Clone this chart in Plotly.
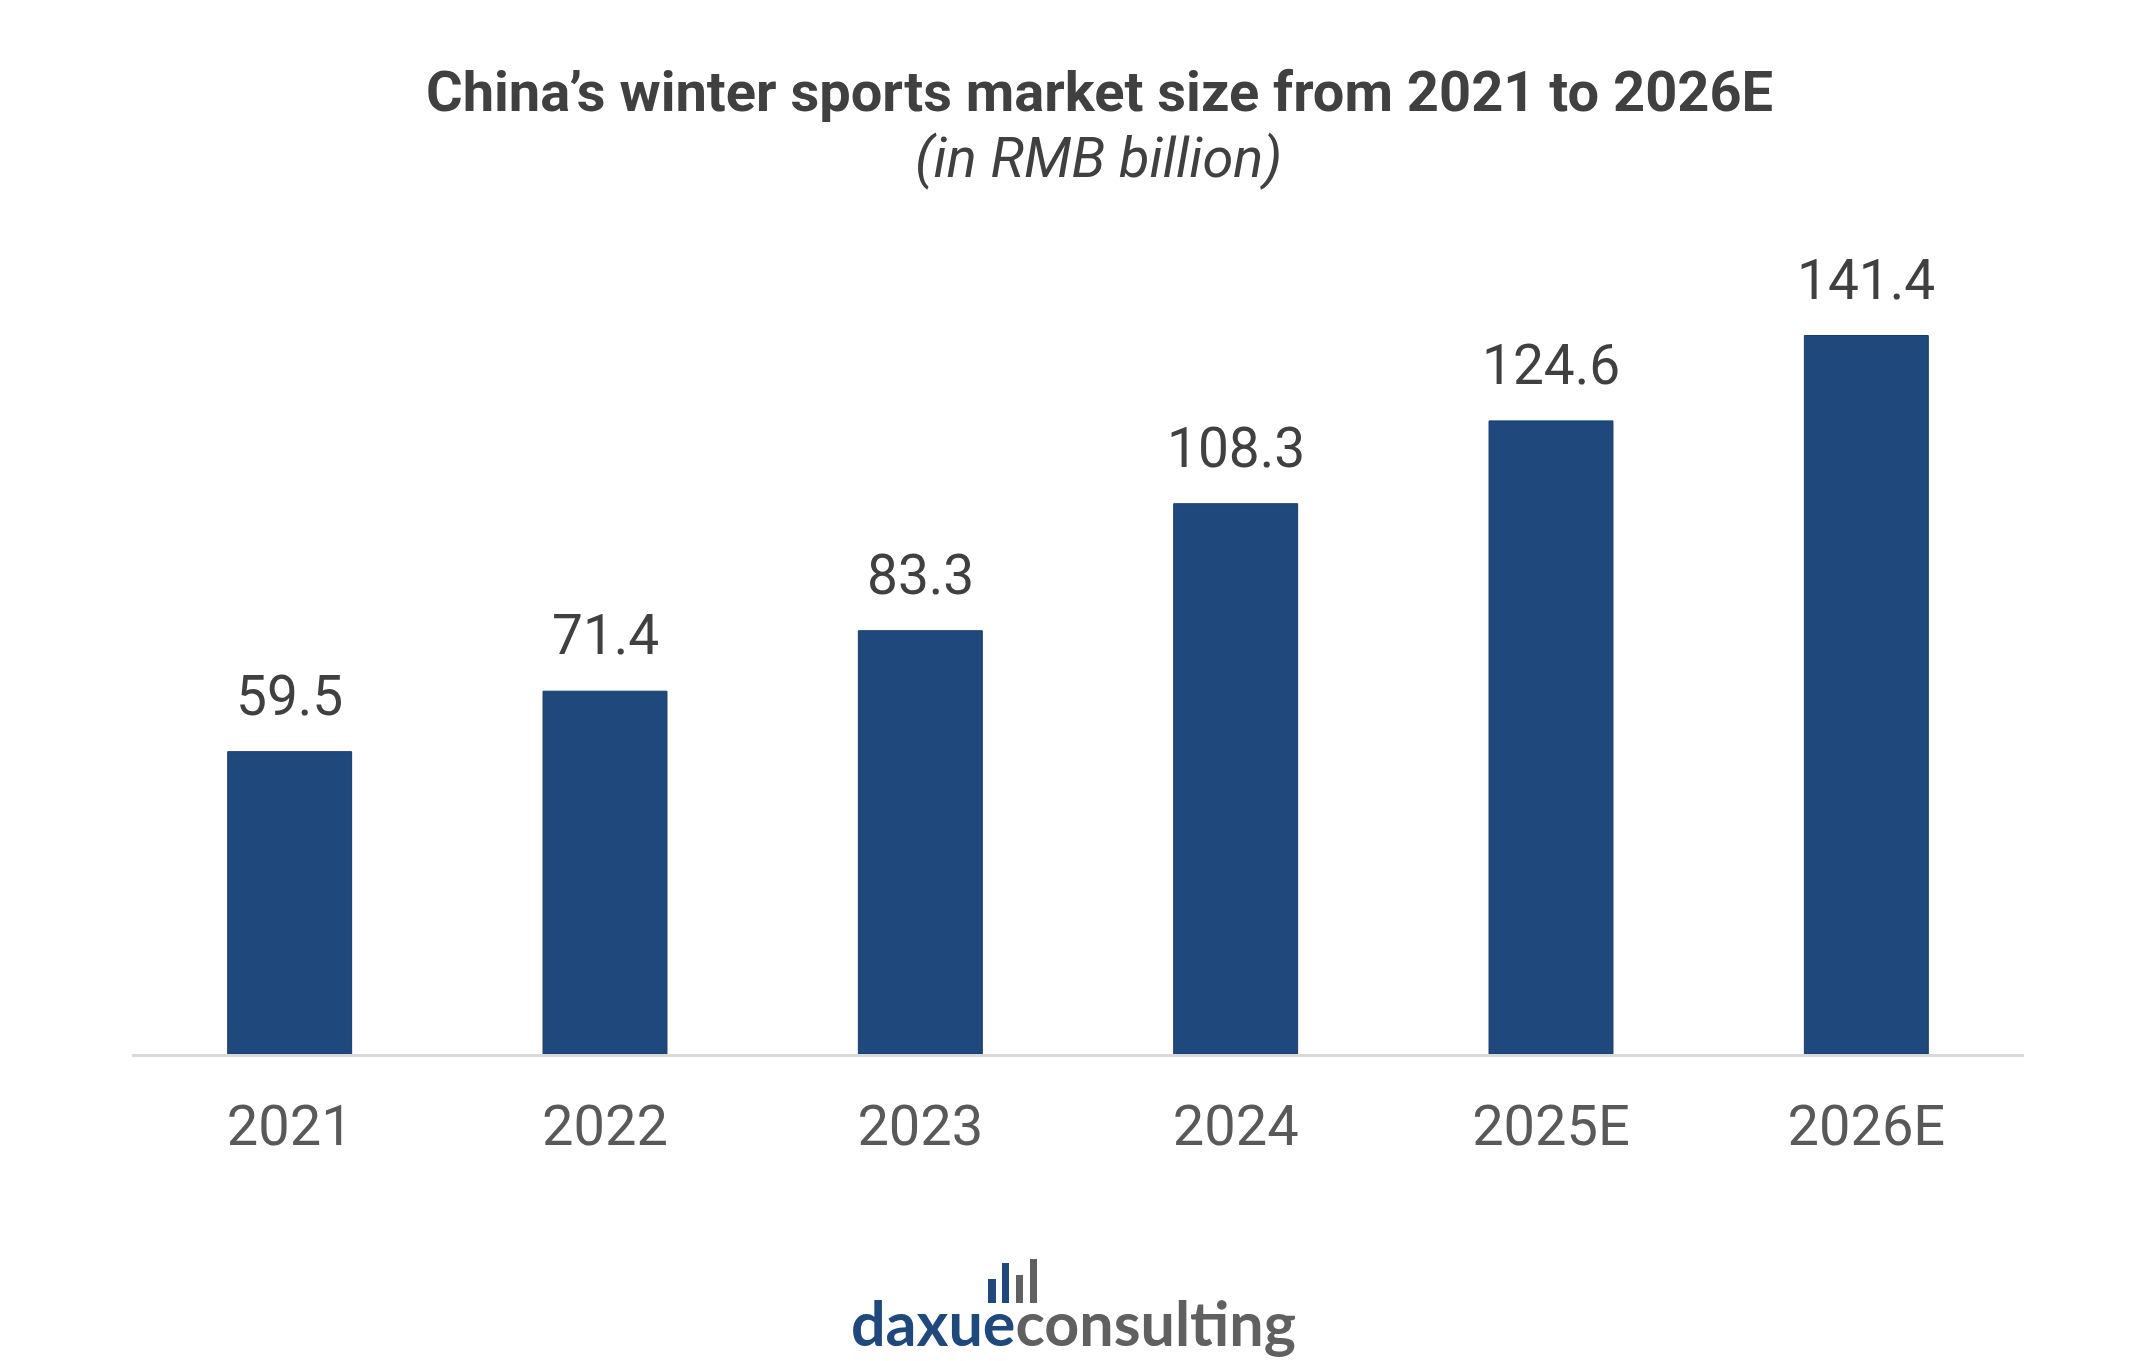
import plotly.graph_objects as go

categories = ["2021", "2022", "2023", "2024", "2025E", "2026E"]
values = [59.5, 71.4, 83.3, 108.3, 124.6, 141.4]
value_labels = ["59.5", "71.4", "83.3", "108.3", "124.6", "141.4"]

W, H = 2149, 1361
ML, MR, MT, MB = 132, 125, 241, 307
PW, PH = W - ML - MR, H - MT - MB

def px(x):
    return (x - ML) / PW

def py(y):
    return (H - MB - y) / PH

fig = go.Figure()
fig.add_trace(go.Bar(
    x=categories, y=values,
    marker=dict(color="#1F497D", line=dict(color="#173C6B", width=1)),
    width=0.393,
    hoverinfo="x+y",
))

for i, (v, t) in enumerate(zip(values, value_labels)):
    fig.add_annotation(x=i, y=v, text=t, showarrow=False, yanchor="bottom",
                       yshift=22, font=dict(family="Roboto", size=55, color="#404040"))

fig.add_annotation(xref="paper", yref="paper", x=px(1099), y=py(92),
                   text="<b>China’s winter sports market size from 2021 to 2026E</b>",
                   showarrow=False, xanchor="center", yanchor="middle",
                   font=dict(family="Roboto", size=56, color="#404040"))
fig.add_annotation(xref="paper", yref="paper", x=px(1098), y=py(158),
                   text="<i>(in RMB billion)</i>",
                   showarrow=False, xanchor="center", yanchor="middle",
                   font=dict(family="Roboto", size=56, color="#404040"))

# logo
fig.add_annotation(xref="paper", yref="paper", x=px(1073), y=py(1322),
                   text="<b><span style='color:#1F497D'>daxue</span><span style='color:#606060'>consulting</span></b>",
                   showarrow=False, xanchor="center", yanchor="middle",
                   font=dict(family="Lato", size=61))
logo_bars = [(988, 996, 1279, "#1F497D"), (1002, 1009, 1263, "#1F497D"),
             (1016, 1023, 1275, "#606060"), (1030, 1037, 1259, "#606060")]
for x0, x1, y0, col in logo_bars:
    fig.add_shape(type="rect", xref="paper", yref="paper",
                  x0=px(x0), x1=px(x1), y0=py(1303), y1=py(y0),
                  fillcolor=col, line=dict(width=0))

fig.update_layout(
    width=W, height=H, autosize=False,
    margin=dict(l=ML, r=MR, t=MT, b=MB),
    plot_bgcolor="white", paper_bgcolor="white",
    showlegend=False,
    xaxis=dict(showline=True, linecolor="#D9D9D9", linewidth=3,
               ticks="outside", ticklen=21, tickcolor="rgba(0,0,0,0)",
               tickfont=dict(family="Roboto", size=56, color="#595959"),
               showgrid=False, range=[-0.5, 5.5]),
    yaxis=dict(visible=False, range=[0, 160], showgrid=False),
)

fig.write_html("out.html", config={"displayModeBar": False},
               post_script="document.body.style.margin='0';document.body.style.overflow='hidden';")
